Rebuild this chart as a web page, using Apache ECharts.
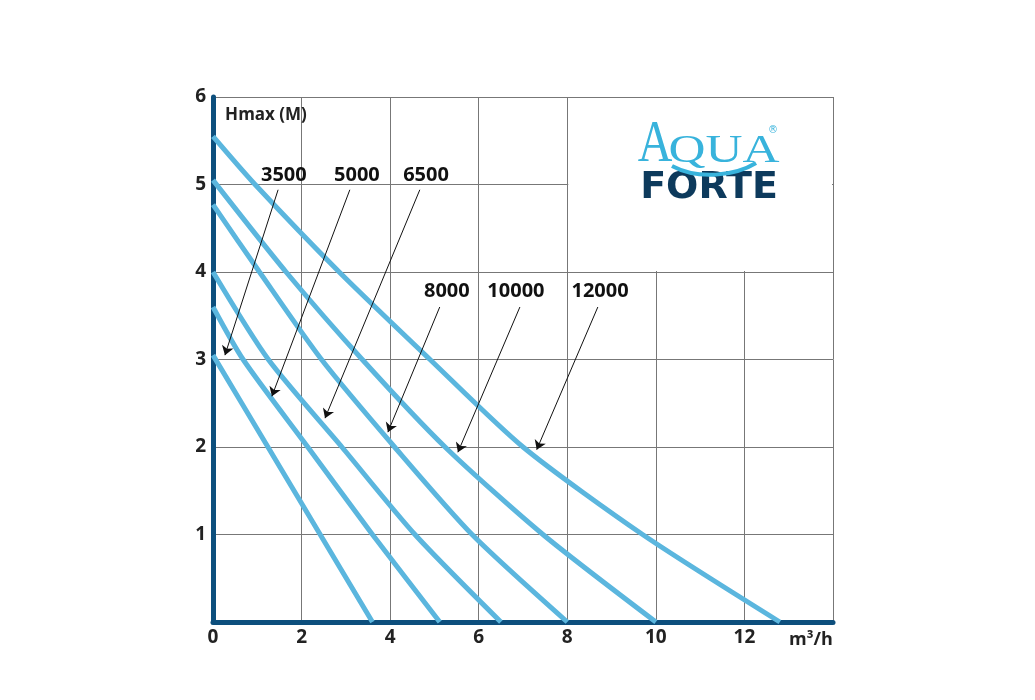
<!DOCTYPE html>
<html>
<head>
<meta charset="utf-8">
<script src="https://cdn.jsdelivr.net/npm/echarts@6/dist/echarts.min.js"></script>
<style>
  html, body { margin: 0; padding: 0; background: #fff; }
  #chart { width: 1035px; height: 700px; }
</style>
</head>
<body>
<div id="chart"></div>
<script>
// pump models and their Q-H curves, points are [flow m3/h, head m]
const models = ['3500', '5000', '6500', '8000', '10000', '12000']
const curve3500 = [[0, 3.05], [1.24, 2], [2.42, 1], [3.6, 0]]
const curve5000 = [[0, 3.6], [0.68, 3], [2.14, 2], [3.6, 1], [5.12, 0]]
const curve6500 = [[0, 4.0], [1.25, 3], [2.91, 2], [4.56, 1], [6.5, 0]]
const curve8000 = [[0, 4.77], [1.05, 4], [2.45, 3], [4.1, 2], [5.85, 1], [8, 0]]
const curve10000 = [[0, 5.05], [1.65, 4], [3.37, 3], [5.24, 2], [7.45, 1], [10, 0]]
const curve12000 = [[0, 5.55], [0.95, 5], [2.85, 4], [4.9, 3], [7.0, 2], [9.7, 1], [12.8, 0]]
const curves = [curve3500, curve5000, curve6500, curve8000, curve10000, curve12000]

// where the model numbers sit and where their arrows point (data units)
const labelPos = [[1.6, 5.1], [3.25, 5.1], [4.81, 5.1], [5.28, 3.78], [6.84, 3.78], [8.74, 3.78]]
const arrowFrom = [[1.47, 4.94], [3.09, 4.94], [4.67, 4.94], [5.12, 3.6], [6.93, 3.6], [8.69, 3.6]]
const arrowTo = [[0.27, 3.05], [1.33, 2.58], [2.53, 2.33], [3.95, 2.17], [5.53, 1.94], [7.31, 1.97]]

// axes
const xMax = 14
const yMax = 6
const xStep = 2
const yStep = 1

const curveColor = '#5bb6de'
const axisColor = '#0d4f7d'
const labelFont = '"Open Sans", "DejaVu Sans", sans-serif'

const chart = echarts.init(document.getElementById('chart'))

const option = {
    backgroundColor: '#fff',
    animation: false,
    grid: { left: 213, right: 202, top: 97, bottom: 78 },
    xAxis: {
        type: 'value',
        min: 0,
        max: xMax,
        interval: xStep,
        axisLine: { show: true, onZero: false, lineStyle: { color: axisColor, width: 5 } },
        axisTick: { show: false },
        splitLine: { show: true, lineStyle: { color: '#777', width: 1 } },
        axisLabel: {
            margin: 6,
            color: '#222',
            fontFamily: labelFont,
            fontWeight: 'bold',
            fontSize: 19,
            formatter: v => (v === xMax ? '' : String(v))
        }
    },
    yAxis: {
        type: 'value',
        min: 0,
        max: yMax,
        interval: yStep,
        axisLine: { show: true, onZero: false, lineStyle: { color: axisColor, width: 5 } },
        axisTick: { show: false },
        splitLine: { show: true, lineStyle: { color: '#777', width: 1 } },
        axisLabel: {
            margin: 7,
            color: '#222',
            fontFamily: labelFont,
            fontWeight: 'bold',
            fontSize: 19,
            formatter: v => (v === 0 ? '' : String(v))
        }
    },
    series: [
        ...curves.map((d, i) => ({
            name: models[i],
            type: 'line',
            data: d,
            smooth: 0.25,
            symbol: 'none',
            silent: true,
            z: 3,
            lineStyle: { color: curveColor, width: 5 },
            markLine: {
                silent: true,
                symbol: ['none', 'arrow'],
                symbolSize: 9,
                label: { show: false },
                lineStyle: { color: '#111', width: 1, type: 'solid' },
                data: [[{ coord: arrowFrom[i] }, { coord: arrowTo[i] }]]
            }
        })),
        {
            name: 'labels',
            type: 'scatter',
            silent: true,
            symbolSize: 0,
            z: 4,
            itemStyle: { opacity: 1 },
            data: labelPos.map((p, i) => [p[0], p[1], models[i]]),
            label: {
                show: true,
                position: 'inside',
                formatter: p => p.value[2],
                color: '#111',
                textBorderWidth: 0,
                fontFamily: labelFont,
                fontWeight: 'bold',
                fontSize: 20
            }
        }
    ]
}

chart.setOption(option)

// white logo panel in the top right corner covers the inner grid lines
const p1 = chart.convertToPixel({ gridIndex: 0 }, [8, yMax])
const p2 = chart.convertToPixel({ gridIndex: 0 }, [xMax, 4])

chart.setOption({
    graphic: [
        {
            type: 'rect',
            z: 1,
            silent: true,
            shape: { x: p1[0] + 1, y: p1[1] + 1, width: p2[0] - p1[0] - 2, height: p2[1] - p1[1] - 2 },
            style: { fill: '#fff' }
        },
        {
            type: 'text',
            z: 5,
            x: 266,
            y: 115,
            style: {
                text: 'Hmax (M)',
                fill: '#222',
                font: 'bold 17px ' + labelFont,
                align: 'center',
                verticalAlign: 'middle'
            }
        },
        {
            type: 'text',
            z: 5,
            x: 811,
            y: 640,
            style: {
                text: 'm³/h',
                fill: '#222',
                font: 'bold 18px ' + labelFont,
                align: 'center',
                verticalAlign: 'middle'
            }
        },
        // logo
        {
            type: 'text',
            z: 5,
            x: 655,
            y: 145,
            scaleX: 0.8,
            style: {
                text: 'A',
                fill: '#38b3dc',
                font: '60px "Liberation Serif", serif',
                align: 'center',
                verticalAlign: 'middle'
            }
        },
        {
            type: 'text',
            z: 5,
            x: 724,
            y: 151,
            scaleX: 1.25,
            style: {
                text: 'QUA',
                fill: '#38b3dc',
                font: '41px "Liberation Serif", serif',
                align: 'center',
                verticalAlign: 'middle'
            }
        },
        {
            type: 'text',
            z: 5,
            x: 773,
            y: 130,
            style: {
                text: '®',
                fill: '#38b3dc',
                font: '10px "DejaVu Sans", sans-serif',
                align: 'center',
                verticalAlign: 'middle'
            }
        },
        {
            type: 'text',
            z: 5,
            x: 709,
            y: 188,
            style: {
                text: 'FORTE',
                fill: '#0d3a5c',
                font: 'bold 38px "DejaVu Sans", sans-serif',
                align: 'center',
                verticalAlign: 'middle'
            }
        },
        {
            type: 'bezierCurve',
            z: 6,
            silent: true,
            shape: { x1: 672, y1: 166, cpx1: 698, cpy1: 180, cpx2: 735, cpy2: 176, x2: 756, y2: 163 },
            style: { stroke: '#38b3dc', lineWidth: 4, fill: null }
        }
    ]
})
</script>
</body>
</html>
